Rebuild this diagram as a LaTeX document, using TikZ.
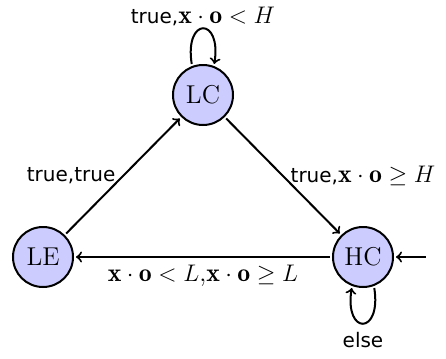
\documentclass[tikz,border=0pt]{standalone}
\usepackage{fontspec}
\newfontfamily\lblfont{DejaVu Sans}
\usetikzlibrary{automata}
\newcommand{\sftxt}[1]{{\fontsize{10pt}{12pt}\lblfont #1}}
\newcommand{\xo}{\mathbf{x}\cdot\mathbf{o}}
\begin{document}
\begin{tikzpicture}[x=0.5pt,y=-0.5pt,
  every node/.style={font=\fontsize{12.9pt}{15pt}\selectfont},
  st/.style={state,circle,draw,line width=1pt,fill=blue!20,minimum size=30pt,inner sep=0pt,outer sep=1.5pt},
  edge/.style={->,line width=1pt}]
\useasboundingbox (0,0) rectangle (446,359);
\node[st] (LC) at (203,95) {LC};
\node[st] (LE) at (43,257) {LE};
\node[st] (HC) at (363,257) {HC};
\coordinate (init) at (426,257);
\draw[edge] (init) -- (HC);
\draw[edge] (LC.110) .. controls +(99:24pt) and +(81:24pt) .. node[above,inner sep=1pt] {\sftxt{true,}$\xo<H$} (LC.70);
\draw[edge] (LE) -- node[left] {\sftxt{true,true}} (LC);
\draw[edge] (LC) -- node[right] {\sftxt{true,}$\xo\geq H$} (HC);
\draw[edge] (HC) -- node[below] {$\xo<L$,$\xo\geq L$} (LE);
\draw[edge] (HC.-70) .. controls +(-81:24pt) and +(-99:24pt) .. node[below,inner sep=4pt] {\sftxt{else}} (HC.-110);
\end{tikzpicture}
\end{document}
